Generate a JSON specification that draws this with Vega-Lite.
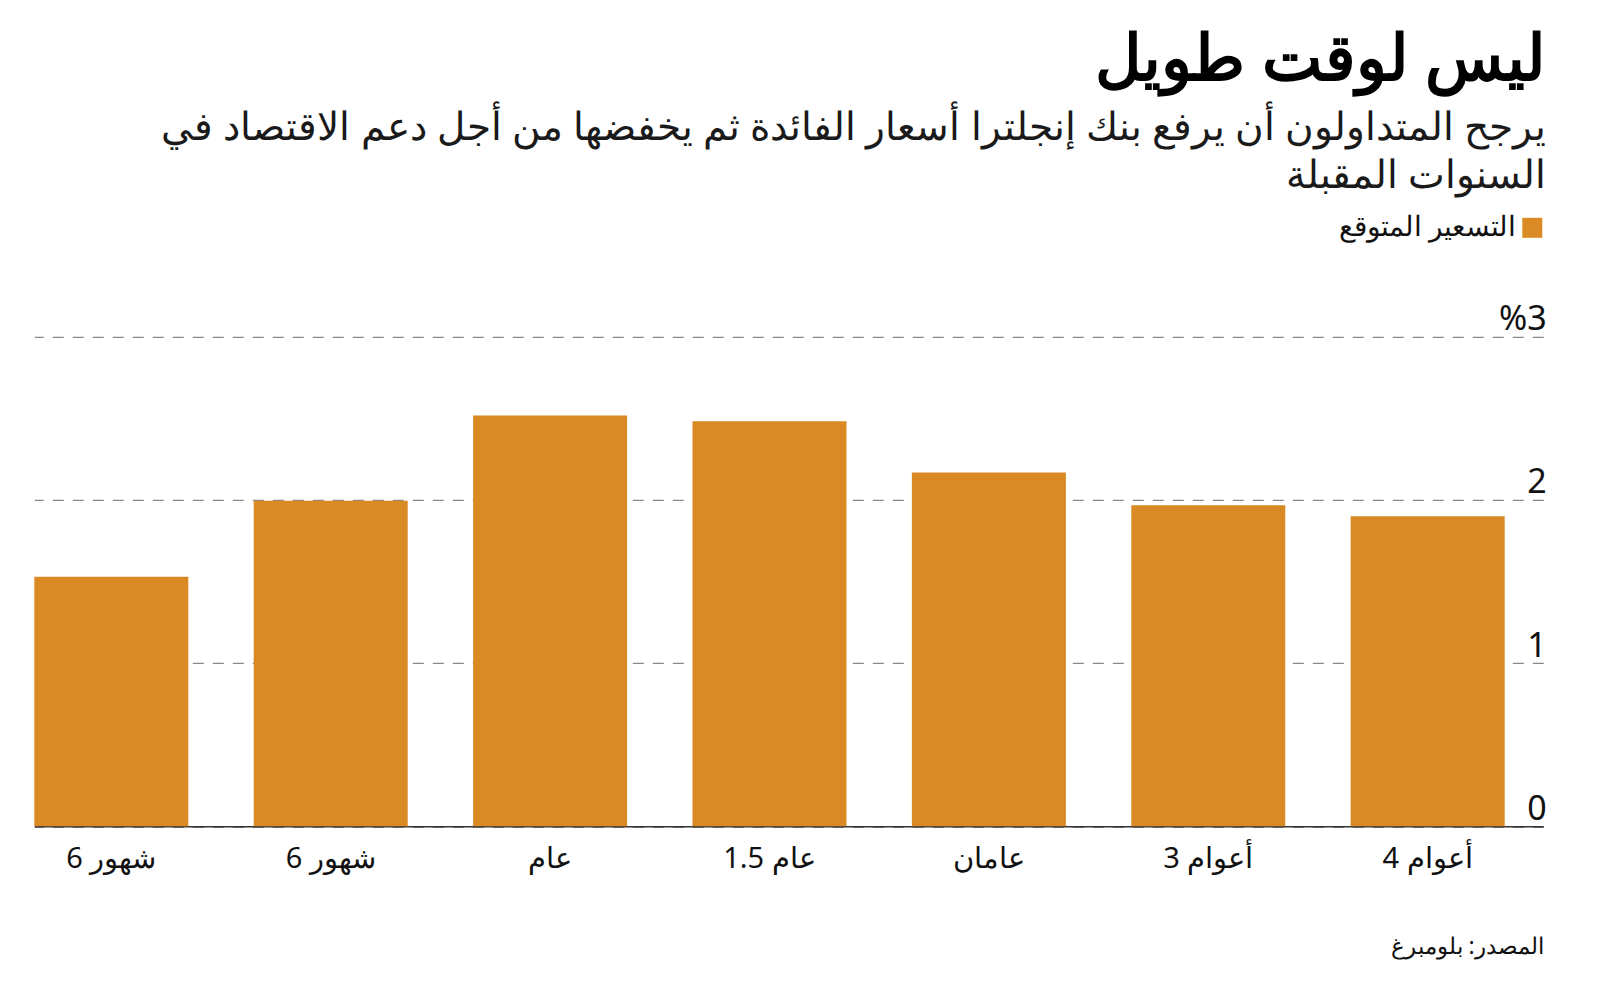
{
  "$schema": "https://vega.github.io/schema/vega-lite/v6.json",
  "width": 1509,
  "height": 489.5,
  "autosize": {"type": "none"},
  "padding": {"left": 34.3, "top": 336.8, "right": 56.7, "bottom": 158.7},
  "background": "white",
  "config": {
    "font": "Noto Sans",
    "view": {"stroke": null}
  },
  "title": {
    "text": "ليس لوقت طويل",
    "subtitle": ["يرجح المتداولون أن يرفع بنك إنجلترا أسعار الفائدة ثم يخفضها من أجل دعم الاقتصاد في", "السنوات المقبلة"],
    "anchor": "end",
    "frame": "group",
    "align": "right",
    "orient": "top",
    "offset": 18,
    "dx": 3,
    "fontSize": 64,
    "fontWeight": "bold",
    "color": "#000000",
    "subtitleFontSize": 39,
    "subtitleColor": "#1a1a1a",
    "subtitleLineHeight": 48,
    "subtitlePadding": 16
  },
  "data": {
    "values": [
      {"key": "6 شهور|1", "value": 1.53, "series": "التسعير المتوقع"},
      {"key": "6 شهور|2", "value": 1.995, "series": "التسعير المتوقع"},
      {"key": "عام|3", "value": 2.518, "series": "التسعير المتوقع"},
      {"key": "1.5 عام|4", "value": 2.483, "series": "التسعير المتوقع"},
      {"key": "عامان|5", "value": 2.169, "series": "التسعير المتوقع"},
      {"key": "3 أعوام|6", "value": 1.967, "series": "التسعير المتوقع"},
      {"key": "4 أعوام|7", "value": 1.9, "series": "التسعير المتوقع"}
    ]
  },
  "mark": {"type": "bar"},
  "encoding": {
    "x": {
      "field": "key",
      "type": "nominal",
      "sort": null,
      "scale": {"paddingInner": 0.298, "paddingOuter": 0.088, "align": 0},
      "axis": {
        "title": "المصدر: بلومبرغ",
        "labelExpr": "split(datum.value, '|')[0]",
        "labelAngle": 0,
        "labelFontSize": 29,
        "labelColor": "#111111",
        "labelPadding": 18,
        "ticks": false,
        "domainColor": "#333333",
        "domainWidth": 1.5,
        "titleAnchor": "end",
        "titleAlign": "right",
        "titleFontSize": 23,
        "titleFontWeight": "normal",
        "titleColor": "#111111",
        "titlePadding": 62
      }
    },
    "y": {
      "field": "value",
      "type": "quantitative",
      "scale": {"domain": [0, 3]},
      "axis": {
        "orient": "right",
        "values": [0, 1, 2, 3],
        "title": null,
        "domain": false,
        "ticks": false,
        "grid": true,
        "gridDash": [11, 9],
        "gridColor": "#888888",
        "gridWidth": 1.2,
        "labelAlign": "right",
        "labelBaseline": "alphabetic",
        "labelOffset": -7,
        "labelPadding": 3,
        "labelFontSize": 34,
        "labelColor": "#111111",
        "labelExpr": "datum.value == 3 ? '%3' : datum.label"
      }
    },
    "color": {
      "field": "series",
      "type": "nominal",
      "scale": {"range": ["#DA8A25"]},
      "legend": {
        "orient": "none",
        "legendX": 1484,
        "legendY": -123,
        "title": null,
        "symbolType": "square",
        "symbolSize": 400,
        "symbolStrokeWidth": 0,
        "symbolOpacity": 1,
        "labelFontSize": 28,
        "labelColor": "#111111",
        "labelAlign": "right",
        "labelOffset": -30,
        "labelLimit": 500,
        "padding": 0
      }
    }
  }
}
